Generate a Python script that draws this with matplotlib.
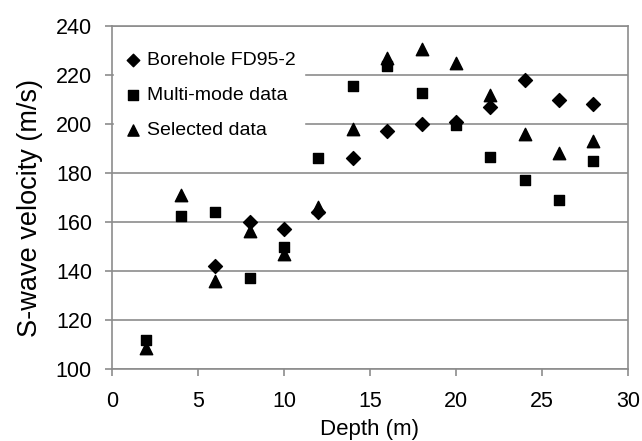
import matplotlib.pyplot as plt

plt.rcParams['font.family'] = ['Liberation Sans', 'DejaVu Sans']

# Borehole FD95-2
bh_depth = [6, 8, 10, 12, 14, 16, 18, 20, 22, 24, 26, 28]
bh_vel = [142, 160, 157, 164, 186, 197, 200, 201, 207, 218, 210, 208]

# Multi-mode data
mm_depth = [2, 4, 6, 8, 10, 12, 14, 16, 18, 20, 22, 24, 26, 28]
mm_vel = [112, 162.5, 164, 137, 150, 186, 215.5, 223.5, 212.5, 199.5, 186.5, 177, 169, 185]

# Selected data
sel_depth = [2, 4, 6, 8, 10, 12, 14, 16, 18, 20, 22, 24, 26, 28]
sel_vel = [108.5, 171, 136, 156.5, 147, 166, 198, 227, 230.5, 225, 212, 196, 188, 193]

fig = plt.figure(figsize=(6.42, 4.41), dpi=100)
ax = fig.add_axes([0.1745, 0.163, 0.8035, 0.778])

gray = '#8c8c8c'
ax.scatter(bh_depth, bh_vel, marker='D', s=50, c='black', label='Borehole FD95-2', zorder=3)
ax.scatter(mm_depth, mm_vel, marker='s', s=62, c='black', label='Multi-mode data', zorder=3)
ax.scatter(sel_depth, sel_vel, marker='^', s=80, c='black', label='Selected data', zorder=3)

ax.set_xlim(0, 30)
ax.set_ylim(100, 240)
ax.set_xticks(range(0, 31, 5))
ax.set_yticks(range(100, 241, 20))
ax.yaxis.grid(True, color=gray, linewidth=1.2)
ax.set_axisbelow(True)
for s in ax.spines.values():
    s.set_color(gray)
    s.set_linewidth(1.2)
ax.tick_params(axis='both', colors=gray, labelcolor='black', labelsize=15.5,
               length=5, width=1.2)
ax.tick_params(axis='x', pad=11)
ax.tick_params(axis='y', pad=9.5)

ax.set_xlabel('Depth (m)', fontsize=16)
ax.xaxis.set_label_coords(0.5, -0.145)
ax.set_ylabel('S-wave velocity (m/s)', fontsize=19.5)
ax.yaxis.set_label_coords(-0.134, 0.471)

leg = ax.legend(loc='upper left', bbox_to_anchor=(-0.015, 0.978), frameon=True,
                fontsize=14, handletextpad=0.1, labelspacing=0.9,
                borderpad=0.4, handlelength=1.2, fancybox=False, markerscale=0.9)
leg.get_frame().set_edgecolor('white')
leg.get_frame().set_alpha(1)

fig.savefig('out.png', dpi=100)
